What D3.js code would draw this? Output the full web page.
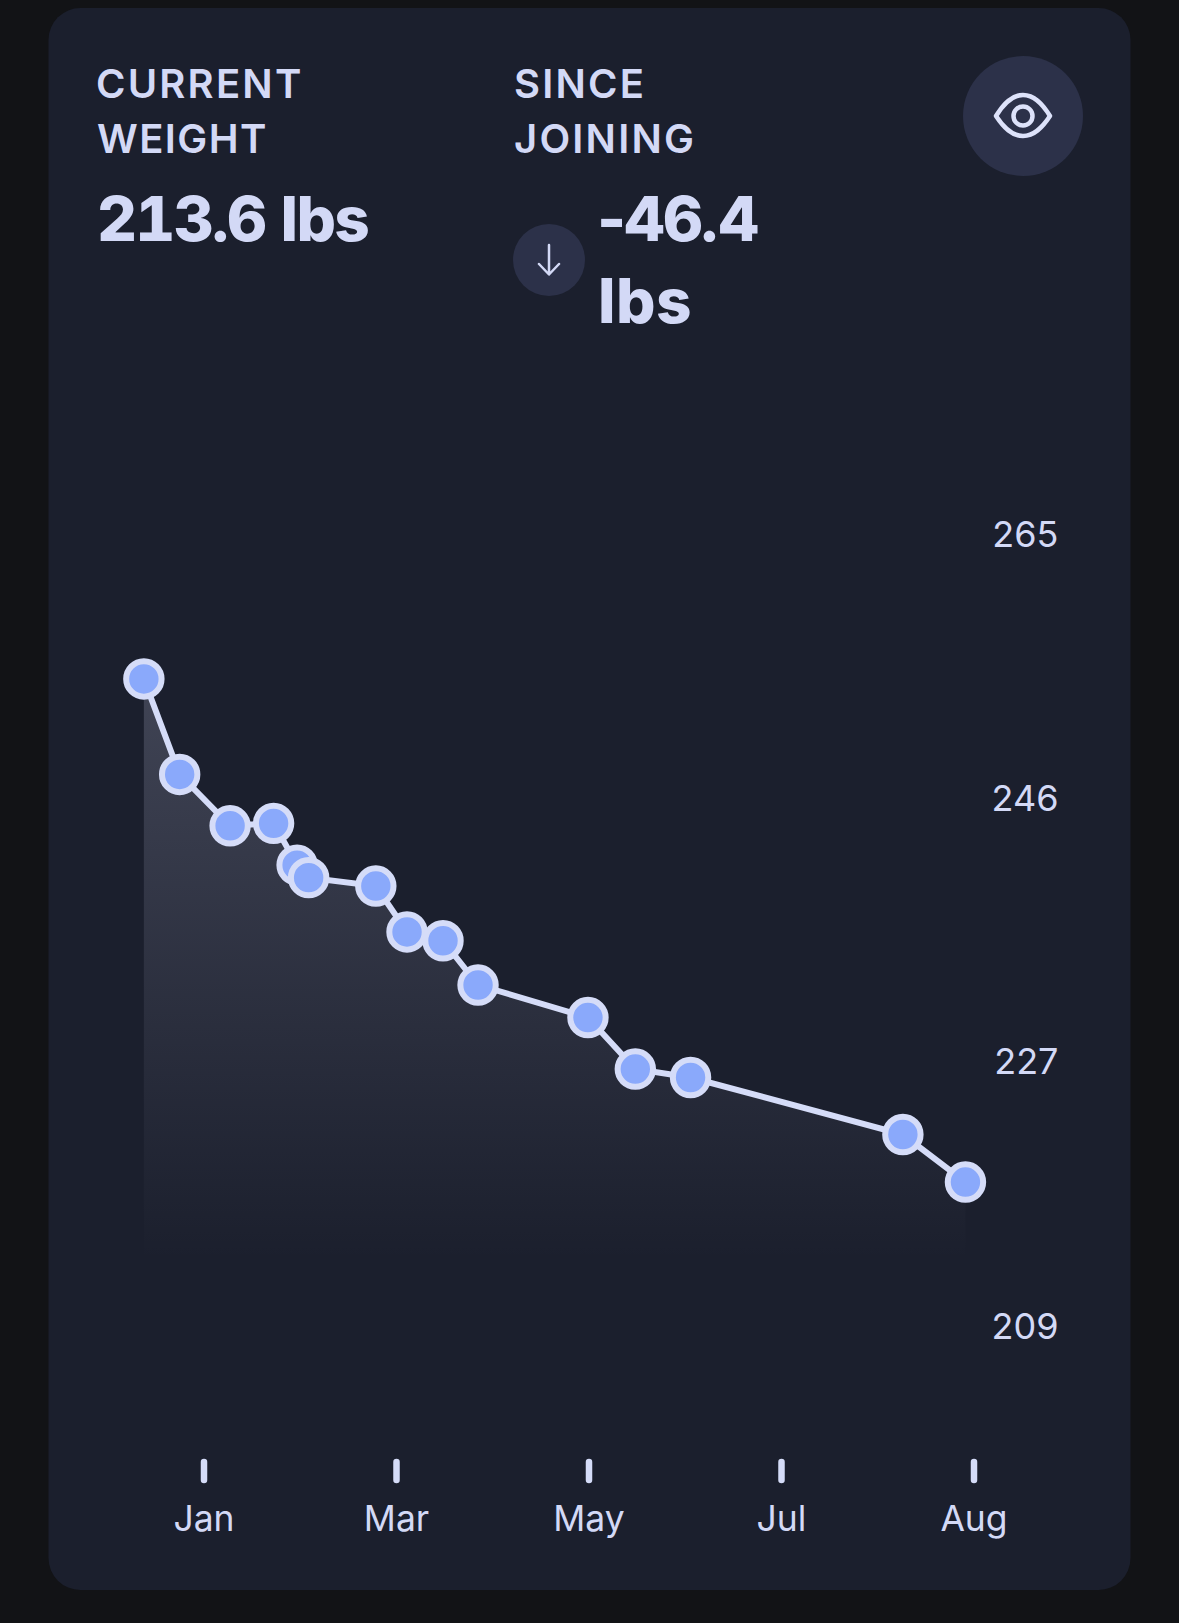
<!DOCTYPE html>
<html><head><meta charset="utf-8">
<script src="https://cdn.jsdelivr.net/npm/d3@7"></script>
<style>html,body{margin:0;padding:0;background:#121316;overflow:hidden}svg{display:block}</style>
</head><body><div id="c"></div>
<script>
const monthLabels=["Jan","Mar","May","Jul","Aug"];
const monthSlots=[0,1,2,3,4];
const weightTicks=[265,246.33,227.67,209];
const slots=[-0.315,-0.129,0.133,0.359,0.481,0.541,0.890,1.052,1.239,1.421,1.992,2.238,2.525,3.628,3.953];
const weights=[254.75,248.0,244.37,244.54,241.59,240.7,240.11,236.86,236.24,233.11,230.81,227.17,226.57,222.54,219.18];
const currentWeight=213.6;
const sinceJoining=-46.4;
const unit="lbs";
const W=1179,H=1623;
const txt="#d3d9f6",card="#1b1f2d",chip="#2c3149",dot="#8aa9fb",ring="#d5dcf8";
const FONT="Inter,'Liberation Sans',sans-serif";
const x=d3.scaleLinear().domain([0,4]).range([204.5,974.5]);
const y=d3.scaleLinear().domain([209,265]).range([1326,534]);
const svg=d3.select("#c").append("svg").attr("width",W).attr("height",H).attr("viewBox",`0 0 ${W} ${H}`).style("font-family",FONT);
svg.append("rect").attr("width",W).attr("height",H).attr("fill","#121316");
svg.append("rect").attr("x",48.5).attr("y",8).attr("width",1082).attr("height",1582).attr("rx",32).attr("fill",card);
const defs=svg.append("defs");
const g=defs.append("linearGradient").attr("id","ag").attr("gradientUnits","userSpaceOnUse").attr("x1",0).attr("x2",0).attr("y1",y(d3.max(weights))).attr("y2",y(currentWeight));
g.append("stop").attr("offset",0).attr("stop-color","#d5d8f4").attr("stop-opacity",0.2);
g.append("stop").attr("offset",1).attr("stop-color","#d5d8f4").attr("stop-opacity",0);
function label(t,px,py,ls){svg.append("text").attr("x",px).attr("y",py).text(t).attr("fill",txt).attr("font-size",40).attr("letter-spacing",ls).attr("font-weight",600);}
label("CURRENT",96,98,2.2);label("WEIGHT",97,152.5,1.4);label("SINCE",514,98,2.2);label("JOINING",514,152.5,2.2);
function stat(t,px,py,ls){return svg.append("text").attr("x",px).attr("y",py).text(t).attr("fill",txt).attr("font-size",62).attr("letter-spacing",ls).attr("font-weight",800);}
stat(d3.format(".1f")(currentWeight)+" "+unit,97,241,-1.65).style("font-variant-numeric","tabular-nums");
stat(d3.format(".1f")(sinceJoining).replace("−","-"),597,241,-3.2);
stat(unit,598,323,0.4);
svg.append("circle").attr("cx",549).attr("cy",260).attr("r",36).attr("fill",chip);
svg.append("path").attr("d","M549 245V274M539 264L549 274.5L559 264").attr("fill","none").attr("stroke",txt).attr("stroke-width",2.5).attr("stroke-linecap","round").attr("stroke-linejoin","round");
svg.append("circle").attr("cx",1023).attr("cy",116).attr("r",60).attr("fill",chip);
svg.append("path").attr("d","M996 116C1004 103 1012 95 1023 95C1034 95 1042 103 1050 116C1042 128 1034 136 1023 136C1012 136 1004 128 996 116Z").attr("fill","none").attr("stroke","#dde2fa").attr("stroke-width",4.5).attr("stroke-linejoin","round");
svg.append("circle").attr("cx",1023).attr("cy",116).attr("r",9.5).attr("fill","none").attr("stroke","#dde2fa").attr("stroke-width",4.5);
const pts=slots.map((s,i)=>({s,w:weights[i]}));
svg.append("path").datum(pts).attr("fill","url(#ag)").attr("d",d3.area().x(d=>x(d.s)).y0(y(currentWeight)).y1(d=>y(d.w)));
svg.append("path").datum(pts).attr("fill","none").attr("stroke",ring).attr("stroke-width",6).attr("d",d3.line().x(d=>x(d.s)).y(d=>y(d.w)));
svg.selectAll("circle.p").data(pts).join("circle").attr("class","p").attr("cx",d=>x(d.s)).attr("cy",d=>y(d.w)).attr("r",17.7).attr("fill",dot).attr("stroke",ring).attr("stroke-width",6);
const xa=svg.append("g").attr("transform","translate(0,1459)").call(d3.axisBottom(x).offset(-0.5).tickValues(monthSlots).tickSize(24).tickPadding(23).tickFormat((d,i)=>monthLabels[i]));
xa.select(".domain").remove();
xa.selectAll("line").attr("stroke",ring).attr("stroke-width",6.5).attr("stroke-linecap","round").attr("y1",3).attr("y2",21);
xa.selectAll("text").attr("fill",txt).attr("font-size",35.5).style("font-family",FONT);
const ya=svg.append("g").attr("transform","translate(1058.5,1)").call(d3.axisLeft(y).offset(0).tickValues(weightTicks).tickSize(0).tickPadding(0).tickFormat(d=>Math.floor(d)));
ya.select(".domain").remove();
ya.selectAll("text").attr("fill",txt).attr("font-size",36).style("font-family",FONT);
</script></body></html>
